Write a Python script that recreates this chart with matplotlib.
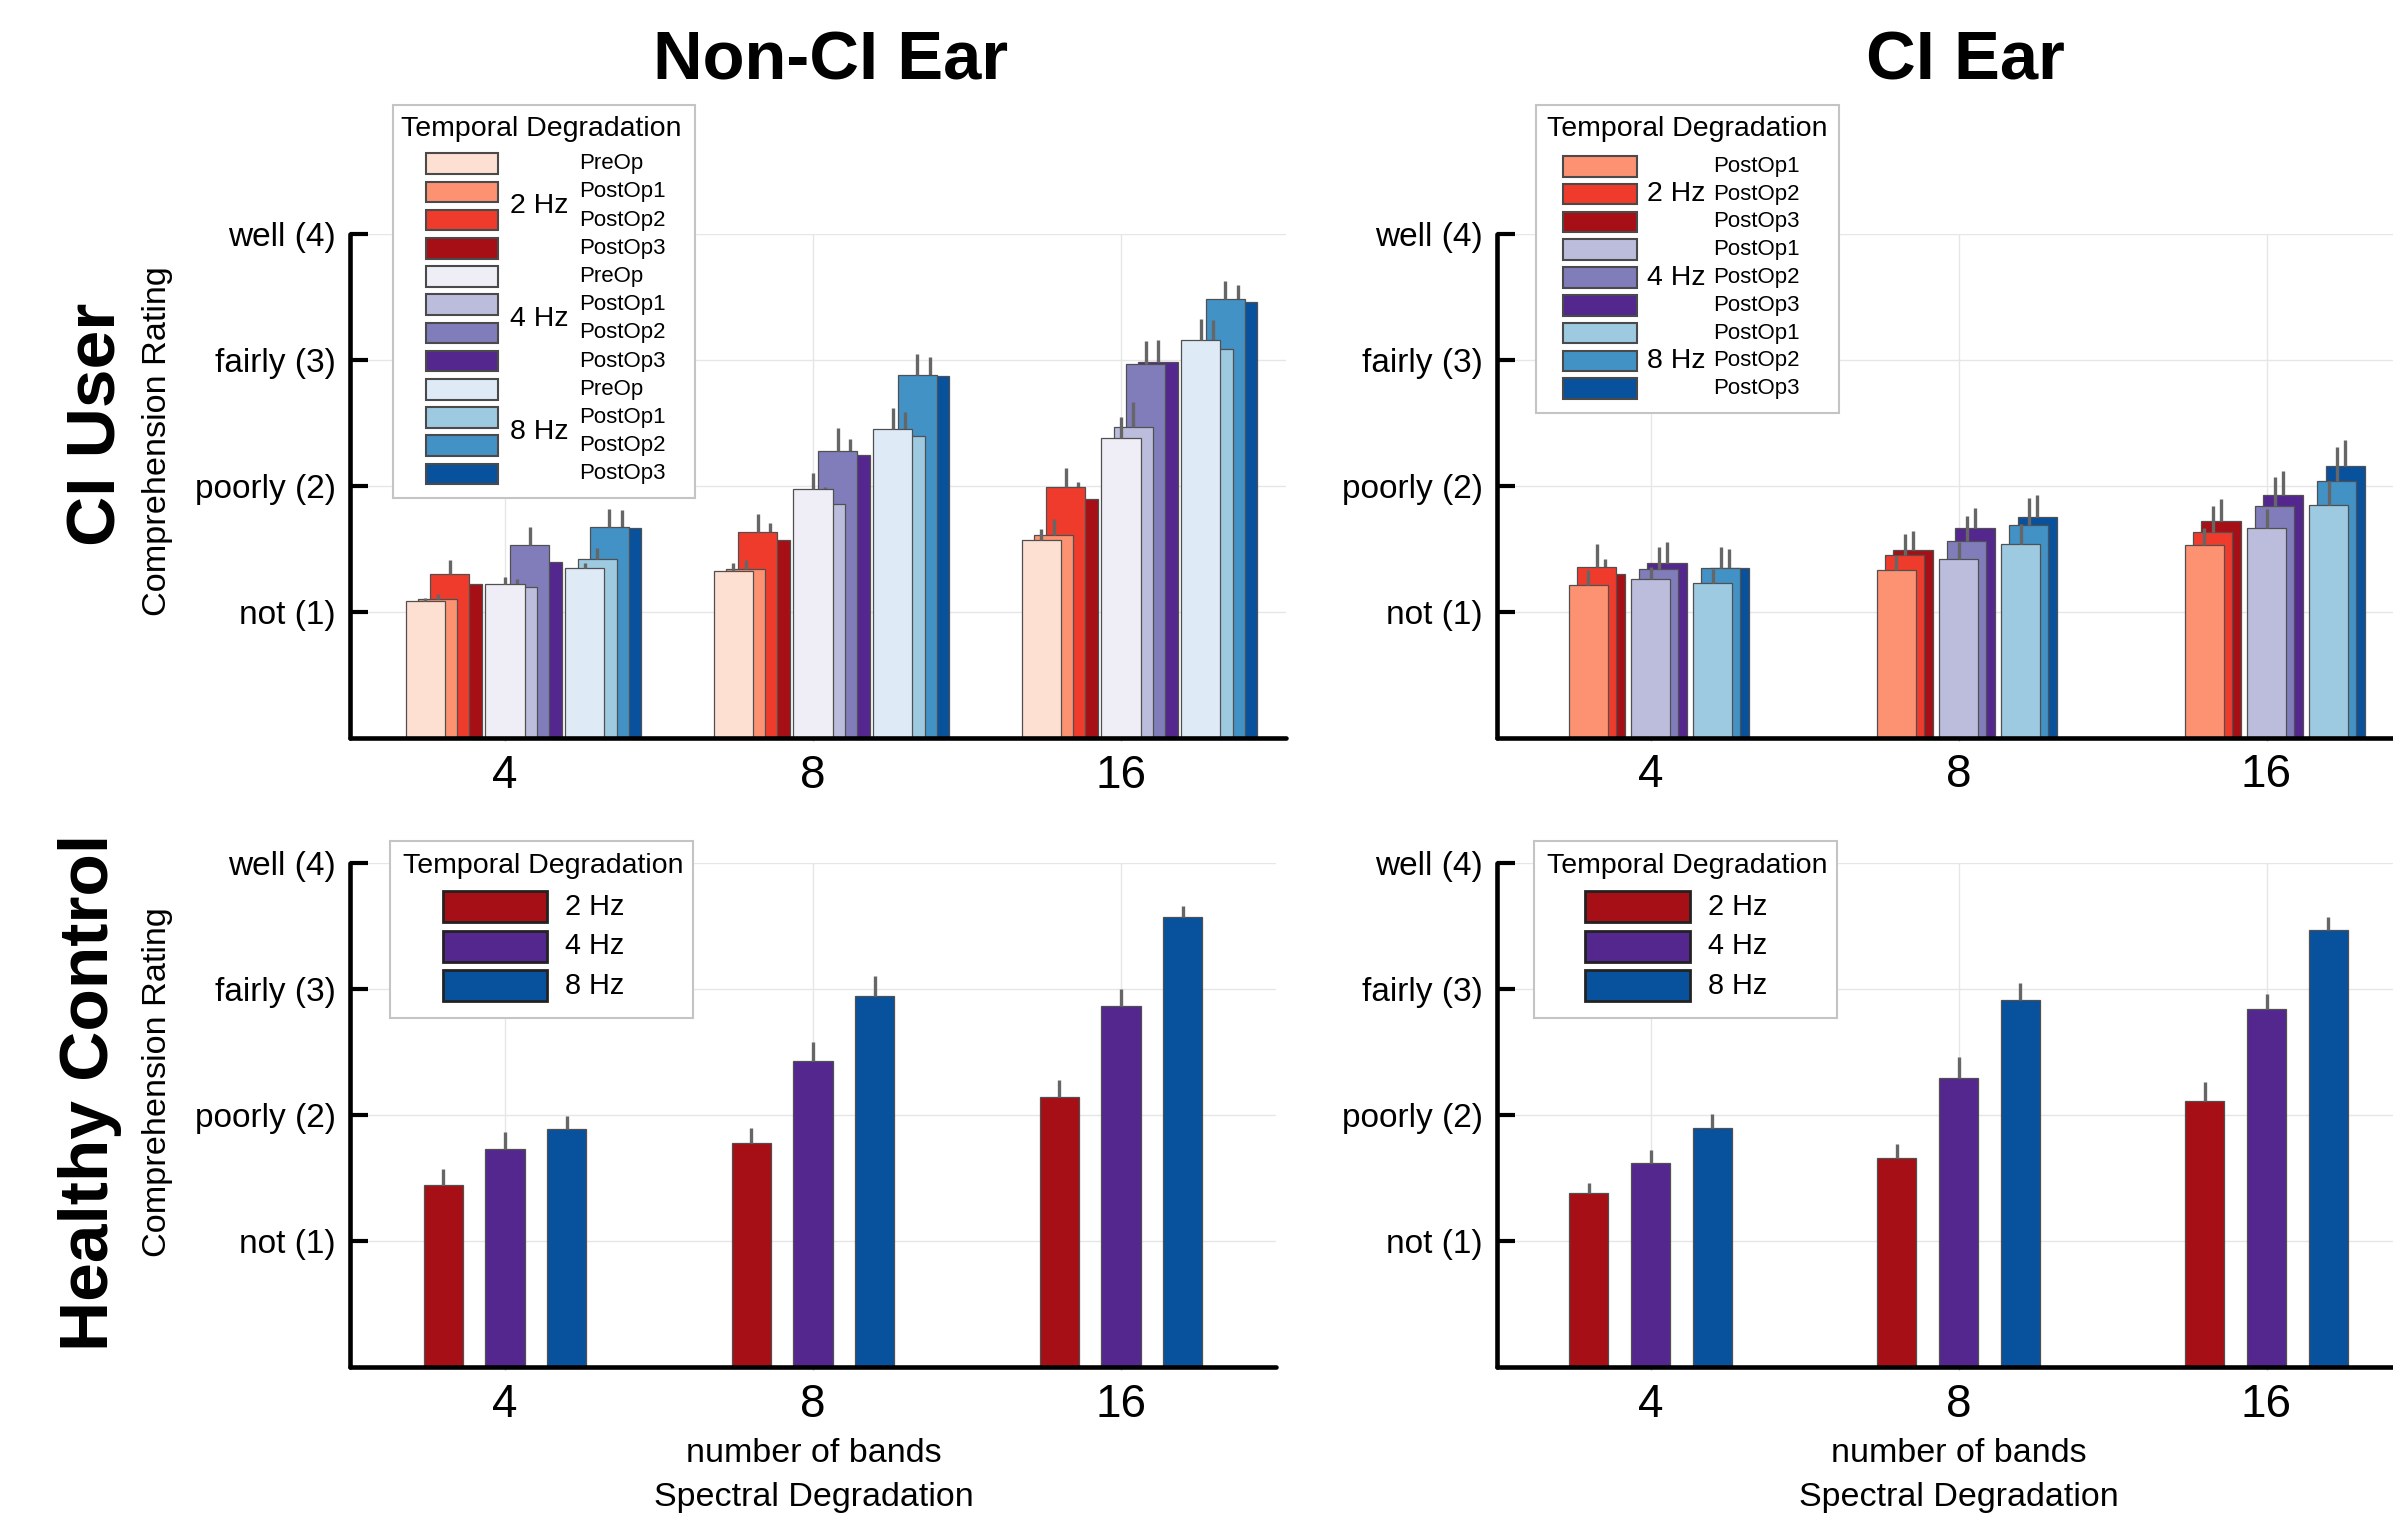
import matplotlib
matplotlib.use("Agg")
import matplotlib.pyplot as plt
from matplotlib.patches import Rectangle
import numpy as np

plt.rcParams['font.family'] = ['Liberation Sans', 'DejaVu Sans']

# ---------------- data ----------------
bands = ['4', '8', '16']
rating_ticks = [1, 2, 3, 4]
rating_labels = ['not (1)', 'poorly (2)', 'fairly (3)', 'well (4)']
rates = ['2 Hz', '4 Hz', '8 Hz']
timepoints_noci = ['PreOp', 'PostOp1', 'PostOp2', 'PostOp3']
timepoints_ci = ['PostOp1', 'PostOp2', 'PostOp3']

# Non-CI ear, CI users: rows = timepoints (PreOp..PostOp3), cols = bands (4, 8, 16)
noci_user_2hz = [[1.085, 1.326, 1.575], [1.10, 1.34, 1.612], [1.305, 1.636, 1.989], [1.226, 1.57, 1.893]]
noci_user_2hz_err = [[0.025, 0.064, 0.087], [0.04, 0.07, 0.127], [0.11, 0.138, 0.151], [0.07, 0.138, 0.14]]
noci_user_4hz = [[1.22, 1.973, 2.383], [1.199, 1.856, 2.468], [1.528, 2.275, 2.969], [1.398, 2.243, 2.985]]
noci_user_4hz_err = [[0.06, 0.133, 0.167], [0.066, 0.138, 0.20], [0.143, 0.183, 0.178], [0.10, 0.13, 0.17]]
noci_user_8hz = [[1.35, 2.452, 3.157], [1.424, 2.40, 3.086], [1.676, 2.884, 3.483], [1.663, 2.875, 3.459]]
noci_user_8hz_err = [[0.04, 0.167, 0.167], [0.085, 0.185, 0.233], [0.143, 0.162, 0.146], [0.15, 0.148, 0.138]]

# CI ear, CI users: rows = PostOp1..PostOp3
ci_user_2hz = [[1.212, 1.329, 1.528], [1.358, 1.448, 1.636], [1.297, 1.488, 1.723]]
ci_user_2hz_err = [[0.12, 0.109, 0.133], [0.18, 0.17, 0.204], [0.12, 0.156, 0.172]]
ci_user_4hz = [[1.257, 1.421, 1.661], [1.339, 1.565, 1.843], [1.39, 1.665, 1.925]]
ci_user_4hz_err = [[0.10, 0.135, 0.154], [0.178, 0.196, 0.23], [0.162, 0.156, 0.196]]
ci_user_8hz = [[1.231, 1.541, 1.851], [1.345, 1.687, 2.041], [1.345, 1.75, 2.156]]
ci_user_8hz_err = [[0.106, 0.154, 0.185], [0.172, 0.215, 0.268], [0.15, 0.175, 0.207]]

# Healthy controls
noci_hc = [[1.443, 1.775, 2.145], [1.733, 2.43, 2.862], [1.886, 2.948, 3.572]]
noci_hc_err = [[0.126, 0.12, 0.13], [0.134, 0.15, 0.14], [0.106, 0.159, 0.087]]
ci_hc = [[1.378, 1.656, 2.111], [1.621, 2.296, 2.84], [1.897, 2.911, 3.47]]
ci_hc_err = [[0.085, 0.116, 0.148], [0.10, 0.164, 0.122], [0.111, 0.135, 0.103]]

# colours
reds = ['#fee0d2', '#fc9272', '#ef3b2c', '#a50f15']
purples = ['#efedf5', '#bcbddc', '#807dba', '#54278f']
blues = ['#deebf7', '#9ecae1', '#4292c6', '#08519c']

# ---------------- figure ----------------
W, H = 2393, 1521
DPI = 100
fig = plt.figure(figsize=(W / DPI, H / DPI), dpi=DPI)
fig.patch.set_facecolor('white')

PX_PER_UNIT = 308.0


def px_axes(left, top, right, bottom, tick0):
    ax = fig.add_axes([left / W, 1 - bottom / H, (right - left) / W, (bottom - top) / H])
    ax.set_xlim(-(tick0 - left) / PX_PER_UNIT, (right - tick0) / PX_PER_UNIT)
    ax.set_ylim(0, 4)
    return ax


def style(ax):
    ax.set_facecolor('none')
    for s in ['top', 'right']:
        ax.spines[s].set_visible(False)
    for s in ['left', 'bottom']:
        ax.spines[s].set_linewidth(3.3)
        ax.spines[s].set_color('black')
        ax.spines[s].set_zorder(50)
        ax.spines[s].set_capstyle('round')
    ax.set_yticks(rating_ticks, rating_labels)
    ax.set_xticks([0, 1, 2], bands)
    ax.tick_params(axis='y', direction='in', length=13, width=3, labelsize=24, pad=10)
    ax.tick_params(axis='x', direction='out', length=2.5, width=1, color='#bbbbbb',
                   labelsize=33, pad=9)
    ax.grid(True, color='#e6e6e6', linewidth=1.0)
    ax.set_axisbelow(True)


ERR_COLOR = '#666666'
EDGE = '#505050'


def draw_layers(ax, data, errs, palettes, color_idx, group_off, tp_off, width):
    x = np.arange(len(bands))
    n_tp = len(data[0])
    for k in reversed(range(n_tp)):
        z = 3 + 2 * (n_tp - 1 - k)
        for r in range(len(rates)):
            xs = x + (r - 1) * group_off + k * tp_off
            m = np.array(data[r][k])
            e = np.array(errs[r][k])
            ax.bar(xs, m, width, color=palettes[r][color_idx[k]], edgecolor=EDGE,
                   linewidth=0.9, zorder=z)
            ax.vlines(xs, m, m + e, color=ERR_COLOR, linewidth=2.4, zorder=z + 1)


# top-left
ax1 = px_axes(349.5, 234, 1286, 738, 505)
style(ax1)
draw_layers(ax1,
            [noci_user_2hz, noci_user_4hz, noci_user_8hz],
            [noci_user_2hz_err, noci_user_4hz_err, noci_user_8hz_err],
            [reds, purples, blues], [0, 1, 2, 3], 0.259, 0.040, 0.127)

# top-right
ax2 = px_axes(1497, 234, 2393, 737.5, 1650.5)
style(ax2)
draw_layers(ax2,
            [ci_user_2hz, ci_user_4hz, ci_user_8hz],
            [ci_user_2hz_err, ci_user_4hz_err, ci_user_8hz_err],
            [reds, purples, blues], [1, 2, 3], 0.2015, 0.0268, 0.127)


def draw_hc(ax, data, errs):
    x = np.arange(len(bands))
    cols = [reds[3], purples[3], blues[3]]
    for r in range(len(rates)):
        xs = x + (r - 1) * 0.2
        m = np.array(data[r])
        e = np.array(errs[r])
        ax.bar(xs, m, 0.127, color=cols[r], edgecolor=EDGE, linewidth=0.9, zorder=3)
        ax.vlines(xs, m, m + e, color=ERR_COLOR, linewidth=2.4, zorder=4)


ax3 = px_axes(349.5, 863, 1276, 1367, 505)
style(ax3)
draw_hc(ax3, noci_hc, noci_hc_err)

ax4 = px_axes(1497, 863, 2393, 1367, 1650.5)
style(ax4)
draw_hc(ax4, ci_hc, ci_hc_err)

# ---------------- overlay (text + legends), pixel coordinates ----------------
ov = fig.add_axes([0, 0, 1, 1])
ov.set_xlim(0, W)
ov.set_ylim(H, 0)
ov.axis('off')
ov.patch.set_visible(False)
ov.set_zorder(100)

ov.text(830.8, 80, 'Non-CI Ear', fontsize=49.5, fontweight='bold', ha='center', va='baseline')
ov.text(1965.5, 80, 'CI Ear', fontsize=49.5, fontweight='bold', ha='center', va='baseline')

ov.text(115, 424, 'CI User', fontsize=50, fontweight='bold', rotation=90,
        rotation_mode='anchor', ha='center', va='baseline')
ov.text(108, 1092, 'Healthy Control', fontsize=50, fontweight='bold', rotation=90,
        rotation_mode='anchor', ha='center', va='baseline')
ov.text(166, 441, 'Comprehension Rating', fontsize=24.7, rotation=90,
        rotation_mode='anchor', ha='center', va='baseline')
ov.text(166, 1082, 'Comprehension Rating', fontsize=24.7, rotation=90,
        rotation_mode='anchor', ha='center', va='baseline')

for cx in (813.7, 1958.5):
    ov.text(cx, 1462, 'number of bands', fontsize=24.5, ha='center', va='baseline')
    ov.text(cx, 1506, 'Spectral Degradation', fontsize=24.5, ha='center', va='baseline')


def legend_box(x0, y0, x1, y1):
    ov.add_patch(Rectangle((x0, y0), x1 - x0, y1 - y0, facecolor='white',
                           edgecolor='#c4c4c4', linewidth=1.5, zorder=1))


def user_legend(box, title_x, title_y, px0, px1, top0, step, ph, hz_x, lab_x, tps, palettes, cidx):
    legend_box(*box)
    ov.text(title_x, title_y, 'Temporal Degradation', fontsize=20.5, ha='center', va='baseline', zorder=3)
    n = len(tps)
    i = 0
    for r, rate in enumerate(rates):
        centers = []
        for k in range(n):
            top = top0 + i * step
            ov.add_patch(Rectangle((px0, top), px1 - px0, ph, facecolor=palettes[r][cidx[k]],
                                   edgecolor='#4a4a4a', linewidth=1.5, zorder=2))
            c = top + ph / 2
            centers.append(c)
            ov.text(lab_x, c, tps[k], fontsize=16, ha='left', va='center', zorder=3)
            i += 1
        ov.text(hz_x, np.mean(centers), rate, fontsize=20.5, ha='left', va='center', zorder=3)


user_legend((392.7, 105, 695, 498), 541.7, 136, 426, 498.3, 153.3, 28.2, 20.7, 510, 579,
            timepoints_noci, [reds, purples, blues], [0, 1, 2, 3])
user_legend((1536, 105, 1839.3, 413.3), 1687.5, 136.5, 1563.3, 1637.3, 156, 27.8, 20.7, 1646.7, 1713.3,
            timepoints_ci, [reds, purples, blues], [1, 2, 3])


def hc_legend(box, title_x, px0, px1, lab_x):
    legend_box(*box)
    ov.text(title_x, 873, 'Temporal Degradation', fontsize=20.5, ha='center', va='baseline', zorder=3)
    cols = [reds[3], purples[3], blues[3]]
    for r, rate in enumerate(rates):
        top = 891.4 + r * 39.5
        ov.add_patch(Rectangle((px0, top), px1 - px0, 31, facecolor=cols[r],
                               edgecolor='#222222', linewidth=2.0, zorder=2))
        ov.text(lab_x, top + 15.5, rate, fontsize=20.8, ha='left', va='center', zorder=3)


hc_legend((390.3, 840.5, 693.4, 1018), 542.8, 443, 546.5, 564.8)
hc_legend((1534, 840.5, 1837, 1018), 1687, 1585.4, 1689.6, 1708)

fig.savefig('out.png', dpi=DPI, facecolor='white')
